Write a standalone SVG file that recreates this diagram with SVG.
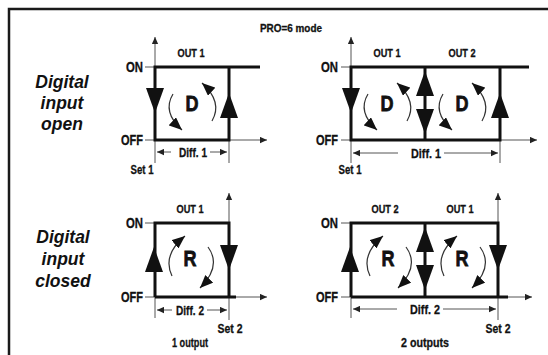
<svg xmlns="http://www.w3.org/2000/svg" xmlns:xlink="http://www.w3.org/1999/xlink" width="548" height="355" viewBox="0 0 548 355">
<style>
.frame{stroke:#1a1a1a;stroke-width:2.5;fill:none}
.thick{stroke:#111;stroke-width:3;fill:none}
.thin{stroke:#555;stroke-width:1;fill:none}
.curl{stroke:#333;stroke-width:1.2;fill:none}
.tri{fill:#111}
.t{font-family:"Liberation Sans",Arial,sans-serif;font-weight:bold;fill:#111;stroke:#111;stroke-width:0.3;text-anchor:middle}
.s{font-size:11px}
.m{font-size:13px}
.lv{font-size:14px;text-anchor:end}
.big{font-size:22px;stroke-width:0.8}
.side{font-family:"Liberation Sans",Arial,sans-serif;font-weight:bold;font-style:italic;font-size:17.5px;fill:#111;text-anchor:middle}
</style>
<defs>
<marker id="ax" viewBox="0 0 10 10" refX="10" refY="5" markerWidth="10" markerHeight="7" markerUnits="userSpaceOnUse" orient="auto"><path d="M0,0.5 L10,5 L0,9.5 Z" fill="#222"/></marker>
<marker id="cv" viewBox="0 0 12 10" refX="12" refY="5" markerWidth="13" markerHeight="11" markerUnits="userSpaceOnUse" orient="auto"><path d="M0,0 L12,5 L0,10 Z" fill="#111"/></marker>
<path id="dn" class="tri" d="M-9,0 L9,0 L0,25 Z"/>
<path id="up" class="tri" d="M-9,25 L9,25 L0,0 Z"/>
<g id="curlD">
<path class="curl" d="M173,94 Q162,112 182,130" marker-end="url(#cv)"/>
<path class="curl" d="M212,121 Q223,102 202,83" marker-end="url(#cv)"/>
</g>
<g id="curlR">
<path class="curl" d="M172,276 Q162,255 185,236" marker-end="url(#cv)"/>
<path class="curl" d="M208,247 Q222,266 200,288" marker-end="url(#cv)"/>
</g>
</defs>

<g id="frame">
<path class="frame" d="M9,355 L9,9 L548,9"/>
</g>

<g id="title"><text class="t s" x="291" y="32" textLength="62" lengthAdjust="spacingAndGlyphs">PRO=6 mode</text></g>

<g id="label-open">
<text class="side" x="62" y="88">Digital</text>
<text class="side" x="62" y="109">input</text>
<text class="side" x="62" y="130">open</text>
</g>
<g id="label-closed">
<text class="side" x="63" y="243">Digital</text>
<text class="side" x="63" y="265">input</text>
<text class="side" x="63" y="287">closed</text>
</g>

<!-- Top-left: open, 1 output -->
<g id="open-1">
<line class="thin" x1="155" y1="163" x2="155" y2="37" marker-end="url(#ax)"/>
<line class="thin" x1="145" y1="140" x2="267" y2="140" marker-end="url(#ax)"/>
<line class="thin" x1="145" y1="67" x2="155" y2="67"/>
<line class="thin" x1="229" y1="140" x2="229" y2="163"/>
<path class="thick" d="M260,67 L155,67 L155,140 L229,140 L229,67"/>
<use xlink:href="#dn" x="155" y="88"/>
<use xlink:href="#up" x="229" y="93"/>
<use xlink:href="#curlD"/>
<text class="t big" x="192" y="111" textLength="13" lengthAdjust="spacingAndGlyphs">D</text>
<text class="t s" x="191" y="57" textLength="27" lengthAdjust="spacingAndGlyphs">OUT 1</text>
<text class="t lv" x="143" y="72" textLength="17" lengthAdjust="spacingAndGlyphs">ON</text>
<text class="t lv" x="143" y="145" textLength="22" lengthAdjust="spacingAndGlyphs">OFF</text>
<text class="t m" x="142" y="174" textLength="23" lengthAdjust="spacingAndGlyphs">Set 1</text>
<text class="t m" x="193" y="157" textLength="28" lengthAdjust="spacingAndGlyphs">Diff. 1</text>
</g>

<!-- Top-right: open, 2 outputs -->
<g id="open-2">
<line class="thin" x1="351" y1="163" x2="351" y2="37" marker-end="url(#ax)"/>
<line class="thin" x1="341" y1="140" x2="537" y2="140" marker-end="url(#ax)"/>
<line class="thin" x1="341" y1="67" x2="351" y2="67"/>
<line class="thin" x1="500" y1="140" x2="500" y2="163"/>
<path class="thick" d="M529,67 L351,67 L351,140 L500,140 L500,67"/>
<line class="thick" x1="425" y1="67" x2="425" y2="140"/>
<use xlink:href="#dn" x="351" y="88"/>
<use xlink:href="#up" x="425" y="71"/>
<use xlink:href="#dn" x="425" y="109"/>
<use xlink:href="#up" x="500" y="93"/>
<use xlink:href="#curlD" transform="translate(195,0)"/>
<use xlink:href="#curlD" transform="translate(270,0)"/>
<text class="t big" x="387" y="111" textLength="13" lengthAdjust="spacingAndGlyphs">D</text>
<text class="t big" x="462" y="111" textLength="13" lengthAdjust="spacingAndGlyphs">D</text>
<text class="t s" x="387" y="57" textLength="27" lengthAdjust="spacingAndGlyphs">OUT 1</text>
<text class="t s" x="462" y="57" textLength="27" lengthAdjust="spacingAndGlyphs">OUT 2</text>
<text class="t lv" x="338" y="72" textLength="17" lengthAdjust="spacingAndGlyphs">ON</text>
<text class="t lv" x="338" y="145" textLength="22" lengthAdjust="spacingAndGlyphs">OFF</text>
<text class="t m" x="350" y="174" textLength="23" lengthAdjust="spacingAndGlyphs">Set 1</text>
<text class="t m" x="426" y="158" textLength="30" lengthAdjust="spacingAndGlyphs">Diff. 1</text>
</g>

<!-- Bottom-left: closed, 1 output -->
<g id="closed-1">
<line class="thin" x1="229" y1="320" x2="229" y2="193" marker-end="url(#ax)"/>
<line class="thin" x1="145" y1="297" x2="267" y2="297" marker-end="url(#ax)"/>
<line class="thin" x1="145" y1="223" x2="155" y2="223"/>
<line class="thin" x1="155" y1="297" x2="155" y2="318"/>
<path class="thick" d="M155,297 L155,223 L229,223 L229,297"/>
<line class="thick" x1="155" y1="297" x2="236" y2="297"/>
<use xlink:href="#up" x="154" y="247"/>
<use xlink:href="#dn" x="229" y="245"/>
<use xlink:href="#curlR"/>
<text class="t big" x="190" y="266" textLength="13" lengthAdjust="spacingAndGlyphs">R</text>
<text class="t s" x="190" y="213" textLength="27" lengthAdjust="spacingAndGlyphs">OUT 1</text>
<text class="t lv" x="143" y="228" textLength="17" lengthAdjust="spacingAndGlyphs">ON</text>
<text class="t lv" x="143" y="302" textLength="22" lengthAdjust="spacingAndGlyphs">OFF</text>
<text class="t m" x="230" y="333" textLength="25" lengthAdjust="spacingAndGlyphs">Set 2</text>
<text class="t m" x="190" y="315" textLength="28" lengthAdjust="spacingAndGlyphs">Diff. 2</text>
<text class="t m" x="190" y="347" textLength="36" lengthAdjust="spacingAndGlyphs">1 output</text>
</g>

<!-- Bottom-right: closed, 2 outputs -->
<g id="closed-2">
<line class="thin" x1="498" y1="320" x2="498" y2="193" marker-end="url(#ax)"/>
<line class="thin" x1="341" y1="297" x2="532" y2="297" marker-end="url(#ax)"/>
<line class="thin" x1="341" y1="223" x2="351" y2="223"/>
<line class="thin" x1="351" y1="297" x2="351" y2="318"/>
<path class="thick" d="M351,297 L351,223 L498,223 L498,297"/>
<line class="thick" x1="351" y1="297" x2="508" y2="297"/>
<line class="thick" x1="425" y1="223" x2="425" y2="297"/>
<use xlink:href="#up" x="350" y="247"/>
<use xlink:href="#up" x="425" y="227"/>
<use xlink:href="#dn" x="425" y="265"/>
<use xlink:href="#dn" x="498" y="245"/>
<use xlink:href="#curlR" transform="translate(198,0)"/>
<use xlink:href="#curlR" transform="translate(272,0)"/>
<text class="t big" x="388" y="266" textLength="13" lengthAdjust="spacingAndGlyphs">R</text>
<text class="t big" x="462" y="266" textLength="13" lengthAdjust="spacingAndGlyphs">R</text>
<text class="t s" x="385" y="213" textLength="27" lengthAdjust="spacingAndGlyphs">OUT 2</text>
<text class="t s" x="460" y="213" textLength="27" lengthAdjust="spacingAndGlyphs">OUT 1</text>
<text class="t lv" x="338" y="228" textLength="17" lengthAdjust="spacingAndGlyphs">ON</text>
<text class="t lv" x="338" y="302" textLength="22" lengthAdjust="spacingAndGlyphs">OFF</text>
<text class="t m" x="498" y="333" textLength="25" lengthAdjust="spacingAndGlyphs">Set 2</text>
<text class="t m" x="425" y="314" textLength="30" lengthAdjust="spacingAndGlyphs">Diff. 2</text>
<text class="t m" x="425" y="347" textLength="48" lengthAdjust="spacingAndGlyphs">2 outputs</text>
</g>

<g id="connectors">
<line class="thin" x1="171" y1="152" x2="157" y2="152" marker-end="url(#ax)"/>
<line class="thin" x1="210" y1="152" x2="227" y2="152" marker-end="url(#ax)"/>
<line class="thin" x1="398" y1="153" x2="353" y2="153" marker-end="url(#ax)"/>
<line class="thin" x1="444" y1="153" x2="498" y2="153" marker-end="url(#ax)"/>
<line class="thin" x1="172" y1="310" x2="157" y2="310" marker-end="url(#ax)"/>
<line class="thin" x1="207" y1="310" x2="227" y2="310" marker-end="url(#ax)"/>
<line class="thin" x1="397" y1="309" x2="353" y2="309" marker-end="url(#ax)"/>
<line class="thin" x1="443" y1="309" x2="496" y2="309" marker-end="url(#ax)"/>
</g>
</svg>
